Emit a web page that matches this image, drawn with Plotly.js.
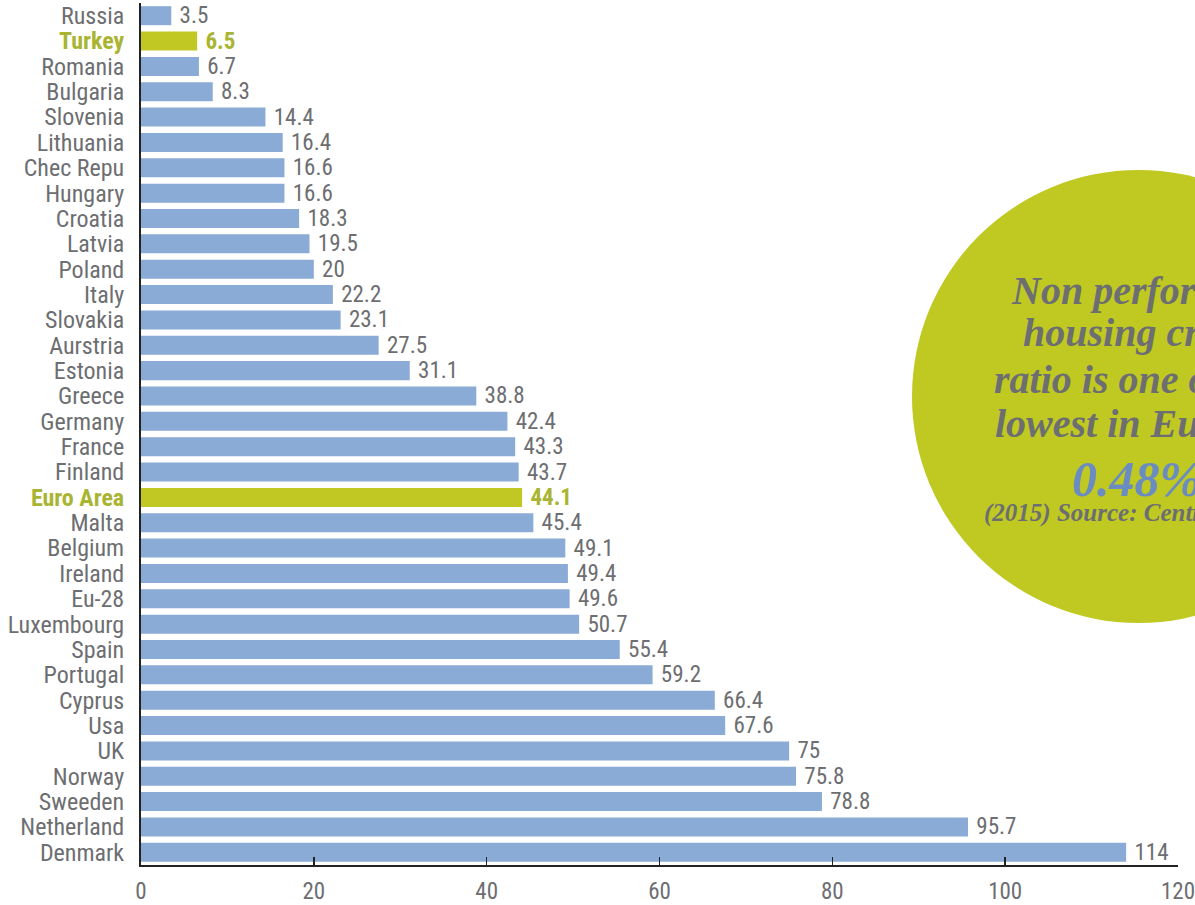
<!DOCTYPE html>
<html>
<head>
<meta charset="utf-8">
<script src="https://cdn.plot.ly/plotly-3.0.1.min.js"></script>
<style>html,body{margin:0;padding:0;background:#fff;}#chart{width:1195px;height:905px;}</style>
</head>
<body>
<div id="chart"></div>
<script>
const countries = ["Russia","Turkey","Romania","Bulgaria","Slovenia","Lithuania","Chec Repu","Hungary","Croatia","Latvia","Poland","Italy","Slovakia","Aurstria","Estonia","Greece","Germany","France","Finland","Euro Area","Malta","Belgium","Ireland","Eu-28","Luxembourg","Spain","Portugal","Cyprus","Usa","UK","Norway","Sweeden","Netherland","Denmark"];
const values = [3.5,6.5,6.7,8.3,14.4,16.4,16.6,16.6,18.3,19.5,20,22.2,23.1,27.5,31.1,38.8,42.4,43.3,43.7,44.1,45.4,49.1,49.4,49.6,50.7,55.4,59.2,66.4,67.6,75,75.8,78.8,95.7,114];
const highlighted = ["Turkey","Euro Area"];
const xTicks = [0,20,40,60,80,100,120];
const calloutLines = ["Non performing","housing credit","ratio is one of","lowest in Europe"];
const calloutValue = "0.48%";
const calloutSource = "(2015) Source: Central Bank";

const FONT = '"Liberation Sans Narrow", "Roboto Condensed", "DejaVu Sans Condensed", Roboto, sans-serif';
const GRAY = '#6d6e71';
const OLIVE = '#a9b532';
const BLUE = '#8aabd5';
const LIME = '#c1c824';

const isHi = countries.map(c => highlighted.includes(c));
const trace = {
  type: 'bar',
  orientation: 'h',
  y: countries,
  x: values,
  marker: {color: isHi.map(h => h ? LIME : BLUE)},
  text: values.map((v,i) => '\u00a0' + (isHi[i] ? '<b>' + v + '</b>' : v)),
  textposition: 'outside',
  constraintext: 'none',
  cliponaxis: false,
  textfont: {family: FONT, size: 23, color: isHi.map(h => h ? OLIVE : GRAY)},
  outsidetextfont: {family: FONT, size: 23, color: isHi.map(h => h ? OLIVE : GRAY)},
  hoverinfo: 'none'
};

// plot-area geometry helpers (paper coords)
const L = 141, R = 1178, T = 3, B = 865;
const px = x => (x - L) / (R - L);
const py = y => (B - y) / (B - T);

const annotations = [];
const lineLefts = [1010, 1022, 993, 994];
const lineBase = [303, 345, 392, 436];
const SERIF = '"Liberation Serif", "DejaVu Serif", serif';
calloutLines.forEach((t, i) => {
  annotations.push({
    xref: 'paper', yref: 'paper', x: px(lineLefts[i]), y: py(lineBase[i] + 11),
    xanchor: 'left', yanchor: 'bottom', showarrow: false, text: '<b><i>' + t + '</i></b>',
    font: {family: SERIF, size: 40, color: GRAY}, borderpad: 0
  });
});
annotations.push({
  xref: 'paper', yref: 'paper', x: px(1071), y: py(495 + 13),
  xanchor: 'left', yanchor: 'bottom', showarrow: false, text: '<b><i>' + calloutValue + '</i></b>',
  font: {family: SERIF, size: 50, color: '#6a8cc0'}, borderpad: 0
});
annotations.push({
  xref: 'paper', yref: 'paper', x: px(983), y: py(522 + 6),
  xanchor: 'left', yanchor: 'bottom', showarrow: false, text: '<b><i>' + calloutSource + '</i></b>',
  font: {family: SERIF, size: 25, color: GRAY}, borderpad: 0
});

const layout = {
  width: 1195, height: 905,
  margin: {l: L, r: 1195 - R, t: T, b: 905 - B},
  paper_bgcolor: '#fff', plot_bgcolor: '#fff',
  showlegend: false,
  bargap: 0.25,
  font: {family: FONT, color: GRAY},
  xaxis: {
    range: [0, 120], tickvals: xTicks, ticks: 'inside', ticklen: 8, tickwidth: 1.5, tickcolor: '#222',
    showline: true, linecolor: '#222', linewidth: 2, showgrid: false, zeroline: false,
    tickfont: {family: FONT, size: 23, color: GRAY}, ticklabeloverflow: 'allow', ticklabelstandoff: 4, fixedrange: true
  },
  yaxis: {
    type: 'category', autorange: 'reversed',
    tickvals: countries,
    ticktext: countries.map((c,i) => isHi[i] ? '<b><span style="color:' + OLIVE + '">' + c + '</span></b>' : c),
    ticks: '', showline: true, linecolor: '#222', linewidth: 2, showgrid: false, zeroline: false,
    tickfont: {family: FONT, size: 24, color: GRAY}, ticklabelstandoff: 10, fixedrange: true
  },
  shapes: [{
    type: 'circle', xref: 'paper', yref: 'paper', layer: 'below',
    x0: px(912), x1: px(1365), y0: py(623), y1: py(170),
    fillcolor: '#bfc922', line: {width: 0}
  }],
  annotations: annotations
};

Plotly.newPlot('chart', [trace], layout, {staticPlot: true, displayModeBar: false});
</script>
</body>
</html>
